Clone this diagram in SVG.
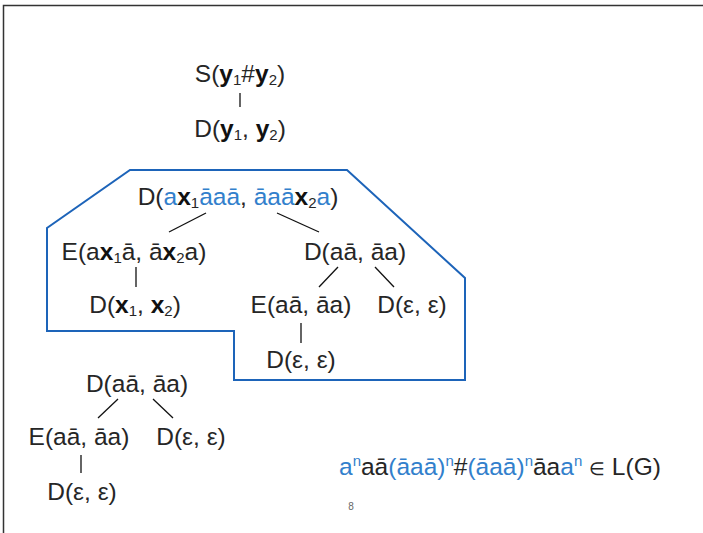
<svg xmlns="http://www.w3.org/2000/svg" width="703" height="533" viewBox="0 0 703 533">
  <style>
    text { font-family: "Liberation Sans", Arial, sans-serif; font-size: 24.5px; fill: #262626; text-anchor: middle; }
    .b { fill: #3280cc; }
    .v { font-weight: bold; fill: #111; }
    .s { font-size: 15px; }
    .edge { stroke: #111; stroke-width: 1.3; fill: none; }
    .region { stroke: #1d64b9; stroke-width: 2; fill: none; }
    .page { font-size: 10px; fill: #666; }
  </style>
  <rect width="703" height="533" fill="#fff"/>
  <!-- slide frame -->
  <path d="M3.5,533 V5.5 H703" fill="none" stroke="#333" stroke-width="1.5"/>

  <!-- highlighted sub-derivation -->
  <polygon id="region" class="region" points="130,170 347,170 465,278 465,380 234,380 234,331 47,331 47,228"/>

  <g id="connectors">
    <line class="edge" x1="240" y1="93" x2="240" y2="107"/>
    <line class="edge" x1="206" y1="213" x2="169" y2="232"/>
    <line class="edge" x1="277" y1="213" x2="319" y2="232"/>
    <line class="edge" x1="136" y1="267" x2="136" y2="287"/>
    <line class="edge" x1="338" y1="267" x2="319" y2="287"/>
    <line class="edge" x1="375" y1="267" x2="394" y2="287"/>
    <line class="edge" x1="301" y1="323" x2="301" y2="343"/>
    <line class="edge" x1="118" y1="399" x2="98" y2="418"/>
    <line class="edge" x1="153" y1="399" x2="173" y2="418"/>
    <line class="edge" x1="81" y1="455" x2="81" y2="473"/>
  </g>

  <g id="n-start"><text x="240" y="82">S(<tspan class="v">y</tspan><tspan class="s" dy="3">1</tspan><tspan dy="-3">#</tspan><tspan class="v">y</tspan><tspan class="s" dy="3">2</tspan><tspan dy="-3">)</tspan></text></g>
  <g id="n-d-y"><text x="240" y="137">D(<tspan class="v">y</tspan><tspan class="s" dy="3">1</tspan><tspan dy="-3">, </tspan><tspan class="v">y</tspan><tspan class="s" dy="3">2</tspan><tspan dy="-3">)</tspan></text></g>

  <g id="n-d-top"><text x="238" y="205">D(<tspan class="b">a</tspan><tspan class="v">x</tspan><tspan class="s" dy="3">1</tspan><tspan class="b" dy="-3">āaā</tspan>, <tspan class="b">āaā</tspan><tspan class="v">x</tspan><tspan class="s" dy="3">2</tspan><tspan class="b" dy="-3">a</tspan>)</text></g>
  <g id="n-e-x"><text x="134" y="260">E(a<tspan class="v">x</tspan><tspan class="s" dy="3">1</tspan><tspan dy="-3">ā, ā</tspan><tspan class="v">x</tspan><tspan class="s" dy="3">2</tspan><tspan dy="-3">a)</tspan></text></g>
  <g id="n-d-aa"><text x="355" y="260">D(aā, āa)</text></g>
  <g id="n-d-x"><text x="135" y="313">D(<tspan class="v">x</tspan><tspan class="s" dy="3">1</tspan><tspan dy="-3">, </tspan><tspan class="v">x</tspan><tspan class="s" dy="3">2</tspan><tspan dy="-3">)</tspan></text></g>
  <g id="n-e-aa"><text x="301" y="313">E(aā, āa)</text></g>
  <g id="n-d-eps1"><text x="412" y="313">D(ε, ε)</text></g>
  <g id="n-d-eps2"><text x="301" y="368">D(ε, ε)</text></g>

  <g id="n2-d-aa"><text x="137" y="392">D(aā, āa)</text></g>
  <g id="n2-e-aa"><text x="79" y="445">E(aā, āa)</text></g>
  <g id="n2-d-eps1"><text x="191" y="445">D(ε, ε)</text></g>
  <g id="n2-d-eps2"><text x="82" y="500">D(ε, ε)</text></g>

  <!-- generated word -->
  <text x="339" y="475" style="text-anchor:start"><tspan class="b">a</tspan><tspan class="b s" dy="-9">n</tspan><tspan dy="9">aā</tspan><tspan class="b">(āaā)</tspan><tspan class="b s" dy="-9">n</tspan><tspan dy="9">#</tspan><tspan class="b">(āaā)</tspan><tspan class="b s" dy="-9">n</tspan><tspan dy="9">āa</tspan><tspan class="b">a</tspan><tspan class="b s" dy="-9">n</tspan><tspan dy="9"> </tspan><tspan style="font-size:18px">∈</tspan><tspan> L(G)</tspan></text>

  <text class="page" x="351" y="510">8</text>
</svg>
